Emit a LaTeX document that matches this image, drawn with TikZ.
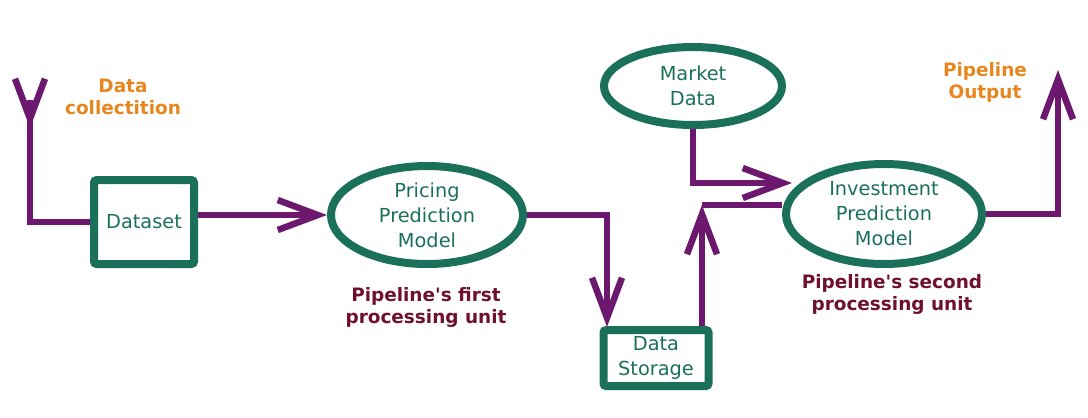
\documentclass[tikz,border=0pt]{standalone}
\usepackage{fontspec}
\setmainfont{DejaVu Sans}
\usetikzlibrary{arrows.meta,shapes.geometric}
\definecolor{pipegreen}{RGB}{27,112,90}
\definecolor{pipeviolet}{RGB}{108,24,110}
\definecolor{pipeorange}{RGB}{232,134,30}
\definecolor{pipered}{RGB}{110,16,46}
\begin{document}
\begin{tikzpicture}[x=0.2mm, y=-0.2mm,
    >={Straight Barb[length=8mm,width=6mm]},
    box/.style={draw=pipegreen, line width=1.6mm, rounded corners=1.5pt, text=pipegreen, align=center, inner sep=1pt, font=\fontsize{11}{13.8}\selectfont},
    oval/.style={ellipse, draw=pipegreen, line width=1.6mm, text=pipegreen, align=center, inner sep=0pt, font=\fontsize{11}{14.2}\selectfont},
    flow/.style={draw=pipeviolet, line width=1.3mm},
    tag/.style={text=pipeorange, align=center, font=\bfseries\fontsize{10.5}{12.5}\selectfont},
    unit/.style={text=pipered, align=center, font=\bfseries\fontsize{10.5}{12.5}\selectfont}]
        \useasboundingbox (0,0) rectangle (1088,417);

        % Boxes and models
        \node[box, minimum width=20mm, minimum height=16.8mm] (dataset) at (144,222) {Dataset};
        \node[oval, minimum width=38.4mm, minimum height=19.6mm] (pricing) at (427,215) {Pricing\\Prediction\\Model};
        \node[box, minimum width=21mm, minimum height=11.2mm] (storage) at (656,358) {Data\\Storage};
        \node[oval, minimum width=35.6mm, minimum height=15.6mm] (market) at (693,86) {Market\\Data};
        \node[oval, minimum width=39.2mm, minimum height=20mm] (invest) at (884,214) {Investment\\Prediction\\Model};

        %Labels
        \node[tag] (collect) at (123,97) {Data\\collectition};
        \node[tag] (output) at (985,82) {Pipeline\\Output};
        \node[unit] (first) at (426,307) {Pipeline\textquotesingle s first\\processing unit};
        \node[unit] (second) at (892,294) {Pipeline\textquotesingle s second\\processing unit};

        % Free ends of the flow
        \coordinate (source) at (30,100);
        \coordinate (source tip) at (30,128);
        \coordinate (sink) at (1058,70);
        \coordinate (store in) at (607,327);
        \coordinate (store up) at (702,205);
        \coordinate (market in) at (792,183);

        % Flow lines
        \draw[flow] (source) |- (dataset.west);
        \draw[flow, <-] (source tip) -- (source);
        \draw[flow, ->] (dataset.east |- pricing.west) -- (pricing.west);
        \draw[flow, ->] (pricing.east) -| (store in);
        \draw[flow, ->] (store up |- storage.north) -- (store up);
        \draw[flow] (store up) -- (store up -| invest.west);
        \draw[flow, ->] (market.south) |- (market in);
        \draw[flow, ->] (invest.east) -| (sink);
\end{tikzpicture}
\end{document}
